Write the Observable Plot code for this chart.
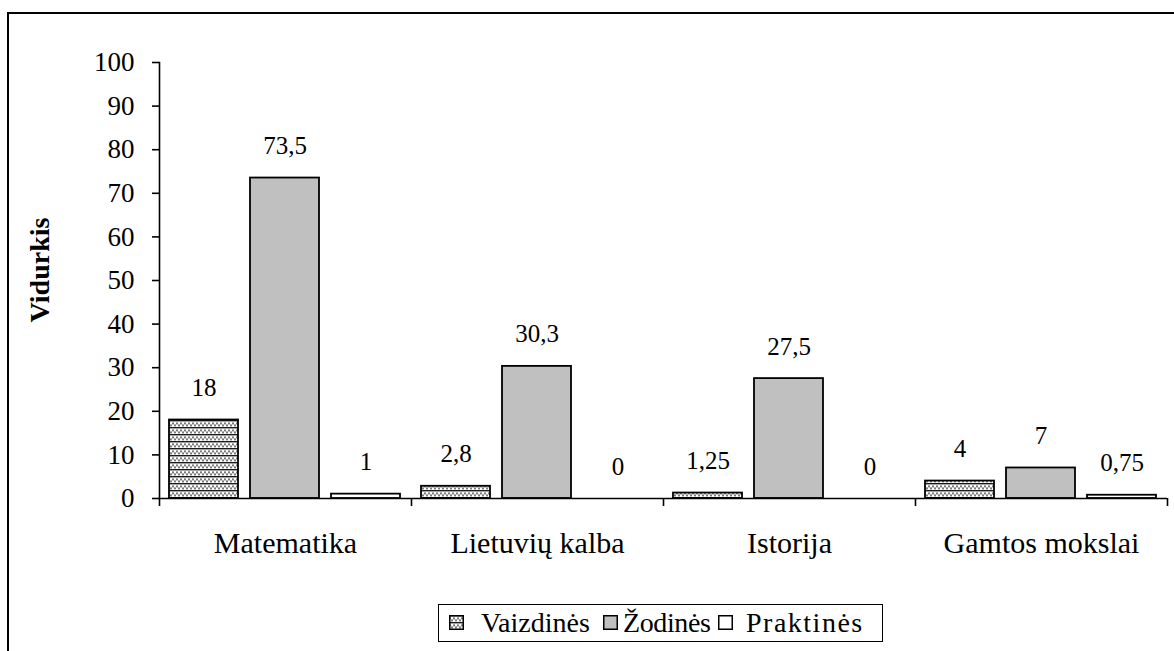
<!DOCTYPE html>
<html>
<head>
<meta charset="utf-8">
<script src="https://cdn.jsdelivr.net/npm/d3@7"></script>
<script src="https://cdn.jsdelivr.net/npm/@observablehq/plot@0.6"></script>
<style>
  html, body { margin: 0; padding: 0; background: #fff; overflow: hidden; width: 1174px; height: 651px; }
  #frame { position: absolute; left: 7px; top: 12px; width: 1200px; height: 700px; border: 2px solid #000; box-sizing: border-box; }
  #chart { position: absolute; left: 0; top: 0; }
  #ylabel { position: absolute; left: 40px; top: 270px; transform: translate(-50%, -50%) rotate(-90deg); font-family: "Liberation Serif", serif; font-weight: bold; font-size: 28px; white-space: nowrap; }
  #legend { position: absolute; left: 438px; top: 604px; width: 445px; height: 38px; border: 1.5px solid #000; box-sizing: border-box;
            font-family: "Liberation Serif", serif; font-size: 28px; white-space: nowrap; }
  #legend .sw { position: absolute; top: 10px; }
  #legend .lb { position: absolute; top: 50%; transform: translateY(-50%); line-height: 1; }
</style>
</head>
<body>
<svg width="0" height="0" style="position:absolute">
  <defs>
    <pattern id="vpat" patternUnits="userSpaceOnUse" width="4" height="7">
      <rect x="0" y="0" width="4" height="7" fill="#fff"/>
      <rect x="0" y="0" width="4" height="1.4" fill="#1a1a1a"/>
      <rect x="0" y="2.4" width="2" height="2" fill="#7a7a7a"/>
      <rect x="2" y="4.4" width="2" height="2" fill="#7a7a7a"/>
    </pattern>
  </defs>
</svg>
<div id="frame"></div>
<div id="chart"></div>
<div id="ylabel">Vidurkis</div>
<div id="legend"></div>
<script>
const categories = ["Matematika", "Lietuvių kalba", "Istorija", "Gamtos mokslai"];
const series = ["Vaizdinės", "Žodinės", "Praktinės"];
const vaizdines = [18, 2.8, 1.25, 4];
const zodines = [73.5, 30.3, 27.5, 7];
const praktines = [1, 0, 0, 0.75];
const yTicks = [0, 10, 20, 30, 40, 50, 60, 70, 80, 90, 100];
const fills = ["url(#vpat)", "#c0c0c0", "#ffffff"];

const values = [vaizdines, zodines, praktines];
const data = categories.flatMap((c, i) => series.map((s, j) => ({cat: c, s, v: values[j][i]})));
const fmt = v => String(v).replace(".", ",");

const W = 1174, H = 570, ML = 159, MR = 7;
const half = (W - ML - MR) / categories.length / 2;
const font = "'Liberation Serif', serif";

const chart = Plot.plot({
  width: W, height: H,
  marginLeft: ML, marginRight: MR, marginTop: 62, marginBottom: 72,
  style: {fontFamily: font, fontSize: "27px", background: "transparent", color: "#000", overflow: "visible"},
  fx: {domain: categories, padding: 0, axis: null, label: null},
  x: {domain: series, paddingInner: 0.146, paddingOuter: 0.11, axis: null},
  y: {domain: [0, 100], axis: null},
  color: {domain: series, range: fills},
  marks: [
    Plot.barY(data.filter(d => d.v > 0), {fx: "cat", x: "s", y: "v", fill: "s", stroke: "#000", strokeWidth: 1.8}),
    Plot.ruleY([0], {stroke: "#000", strokeWidth: 1.6}),
    Plot.frame({anchor: "left", facetAnchor: "left", stroke: "#000", strokeWidth: 1.6}),
    Plot.axisY({ticks: yTicks, tickSize: 7, tickPadding: 18, fontSize: 27, strokeWidth: 1.6, label: null, tickFormat: d => d}),
    Plot.axisFx({anchor: "bottom", tickSize: 8, tickFormat: () => "", dx: -half, strokeWidth: 1.6, label: null}),
    Plot.axisFx({anchor: "bottom", ticks: [categories[categories.length - 1]], tickSize: 8, tickFormat: () => "", dx: half, strokeWidth: 1.6, label: null}),
    Plot.axisFx({anchor: "bottom", tickSize: 0, tickPadding: 33, fontSize: 30, label: null}),
    Plot.text(data, {fx: "cat", x: "s", y: "v", text: d => fmt(d.v), dy: -32, lineAnchor: "middle", fontSize: 25})
  ]
});
document.getElementById("chart").appendChild(chart);

// legend entries: swatch left / label left / letter spacing within the legend box
const legendSwatchX = [10, 164, 279];
const legendLabelX = [42, 184, 307];
const legendSpacing = [0, -0.4, 1.5];
const legend = document.getElementById("legend");
series.forEach((s, j) => {
  const sw = document.createElement("div");
  sw.className = "sw";
  sw.style.left = legendSwatchX[j] + "px";
  sw.innerHTML = `<svg width="15" height="15" style="display:block"><rect x="0.75" y="0.75" width="13.5" height="13.5" fill="${fills[j]}" stroke="#000" stroke-width="1.5"/></svg>`;
  legend.appendChild(sw);
  const lb = document.createElement("span");
  lb.className = "lb";
  lb.style.left = legendLabelX[j] + "px";
  lb.style.letterSpacing = legendSpacing[j] + "px";
  lb.textContent = s;
  legend.appendChild(lb);
});
</script>
</body>
</html>
